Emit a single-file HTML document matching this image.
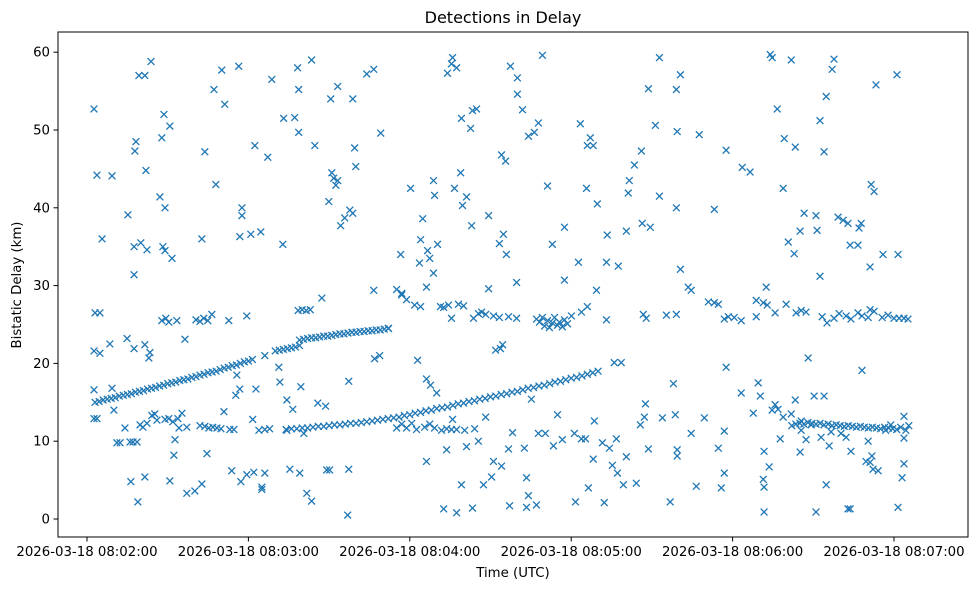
<!DOCTYPE html>
<html><head><meta charset="utf-8">
<style>
html,body{margin:0;padding:0;background:#fff;}
svg{display:block;font-family:"DejaVu Sans","Liberation Sans",sans-serif;}
</style></head>
<body>
<svg id="chart" width="980" height="590" viewBox="0 0 980 590">
<rect x="0" y="0" width="980" height="590" fill="#fff"/>
<text x="503" y="23" text-anchor="middle" font-size="16" fill="#000">Detections in Delay</text>
<g id="marks"></g>
<rect x="58" y="32" width="910" height="505" fill="none" stroke="#000" stroke-width="1"/>
<g id="xaxis"></g>
<g id="yaxis"></g>
<text x="513" y="577" text-anchor="middle" font-size="13.3" fill="#000">Time (UTC)</text>
<text x="21" y="285" text-anchor="middle" font-size="13.3" fill="#000" transform="rotate(-90 21 285)">Bistatic Delay (km)</text>
</svg>
<script>
// times in seconds after 08:02:00, delays in km
const trackATimes=[3,4.5,6,7.5,9,10.5,12,13.5,15,16.5,18,19.5,21,22.5,24,25.5,27,28.5,30,31.5,33,34.5,36,37.5,39,40.5,42,43.5,45,46.5,48,49.5,51,52.5,54,55.5,57,58.5,60,61.5,70,71.5,73,74.5,76,77.5,79];
const trackADelays=[15.0,15.1,15.3,15.4,15.5,15.6,15.8,15.9,16.0,16.1,16.3,16.4,16.5,16.7,16.8,16.9,17.1,17.2,17.4,17.5,17.6,17.8,17.9,18.0,18.2,18.3,18.5,18.6,18.8,18.9,19.0,19.2,19.4,19.5,19.7,19.8,20.0,20.2,20.3,20.5,21.6,21.7,21.8,21.9,22.0,22.1,22.3];
const trackBTimes=[79,80.5,82,83.5,85,86.5,88,89.5,91,92.5,94,95.5,97,98.5,100,101.5,103,104.5,106,107.5,109,110.5,112,78.5,80,81.5,83];
const trackBDelays=[23.0,23.1,23.2,23.3,23.3,23.4,23.5,23.5,23.6,23.7,23.8,23.8,23.9,24.0,24.0,24.1,24.1,24.2,24.2,24.3,24.3,24.4,24.5,26.8,26.9,26.8,26.9];
const trackCTimes=[74,76,78,80,82,84,86,88,90,92,94,96,98,100,102,104,106,108,110,112,114,116,118,120,122,124,126,128,130,132,134,136,138,140,142,144,146,148,150,152,154,156,158,160,162,164,166,168,170,172,174,176,178,180,182,184,186,188,190];
const trackCDelays=[11.5,11.6,11.6,11.7,11.7,11.8,11.9,11.9,12.0,12.1,12.1,12.2,12.3,12.3,12.4,12.5,12.6,12.7,12.8,12.9,13.0,13.1,13.3,13.4,13.6,13.7,13.9,14.0,14.2,14.3,14.4,14.6,14.8,14.9,15.1,15.2,15.4,15.5,15.7,15.8,16.0,16.1,16.3,16.4,16.6,16.8,16.9,17.1,17.2,17.4,17.6,17.7,17.9,18.1,18.2,18.4,18.6,18.8,19.0];
const trackDTimes=[262,263.5,265,266.5,268,269.5,271,272.5,274,275.5,277,278.5,280,281.5,283,284.5,286,287.5,289,290.5,292,293.5,295,296.5,298,299.5,301,302.5,265.5,267.3,269.2,272.9,276.6,280.3,282.2,296.9,298.8,303.7,304.4,305.5];
const trackDDelays=[12.0,12.2,12.3,12.2,12.4,12.3,12.2,12.3,12.1,12.2,12.0,12.1,12.0,11.9,12.0,11.9,11.8,11.9,11.8,11.7,11.8,11.7,11.6,11.8,11.7,11.6,11.5,11.8,11.4,10.2,12.1,10.5,11.2,11.0,10.5,11.4,12.1,10.4,11.4,12.0];
const clutterHighTimes=[3,4.8,27.8,29.3,30.4,33.4,40.5,42,43.4,44.9,46.4,52.7,59.4,115.1,117,118.8,121.8,124,131.4,132.6,134.4,135.5,138.1,140,143.7,145.5,146.7,148.2,149.3,151.1,153.3,156.7,159.7,167.1,168.2,169.3,170.1,171.2,171.9,173,173.8,174.9,175.6,176.7,177.5,178.6,180.1,183.8,186,193.1,206.8,207.9,215.4,219.1,223.5,231,233.2,234.7,236.9,238.4,240.6,243.2,248.8,251.4,252.9,255.8,259.9,263.6,265.5,267.3,273.3,275.1,277.7,279.6,282.2,284,286.6,288.1,290.4,292.6,295.6,297.8,300,301.9,303.7,305.2,87.3,106.6,117,126.2,159.7,177.5,189.4,224.6,252.5,248.8,291.1];
const clutterHighDelays=[26.5,26.5,25.5,25.8,25.3,25.5,25.6,25.4,25.8,25.5,26.3,25.5,26.1,29.5,28.8,28.2,27.5,27.3,27.3,27.2,27.5,25.8,27.6,27.4,25.8,26.4,26.6,26.3,29.6,26.1,25.9,26.0,25.8,25.7,25.3,25.9,24.8,25.5,24.6,25.2,25.9,24.9,25.3,24.7,25.6,25.1,26.1,26.6,27.3,25.6,26.3,25.8,26.2,26.3,29.8,27.9,27.8,27.6,25.7,26.0,25.9,25.5,26.0,27.8,27.5,26.5,27.6,26.5,26.8,26.6,26.0,25.2,25.8,26.4,26.1,25.7,26.5,26.1,25.9,26.7,25.9,26.2,25.8,25.8,25.8,25.7,28.4,29.4,29.0,29.8,30.4,30.7,29.4,29.4,29.8,28.1,26.9];
const clutterLowTimes=[26,29,30.4,31.9,33.8,37.1,42,43.8,45.3,46.8,48.3,49.8,53.1,54.6,63.9,66.1,67.9,74.3,115.1,117,118.8,120.7,122.5,125.5,127.4,129.2,131.8,133.7,135.5,137.4,140.4,144.1,2.6,3.7,24.1,25.2,19.7,20.8,22.3,14.1];
const clutterLowDelays=[12.7,12.8,12.9,12.5,12.9,11.8,12.0,11.9,11.7,11.8,11.7,11.6,11.5,11.5,11.4,11.5,11.6,11.4,11.7,12.2,11.7,12.3,11.5,11.8,12.2,11.7,11.4,11.6,11.5,11.5,11.4,11.6,12.9,12.9,13.3,13.5,12.1,11.8,12.3,11.7];
const scatterHighTimes=[2.6,3.7,5.6,9.3,15.2,17.5,17.5,18.2,17.8,19.3,21.5,21.9,23.8,20,22.3,27.1,27.8,29,28.6,30.8,28.2,29,31.6,42.7,43.8,47.2,47.9,50.1,51.2,56.4,57.6,57.6,56.8,62.4,60.9,64.6,67.2,68.7,73.1,72.8,77.2,78.3,78.7,83.5,84.7,78.7,90.6,93.2,91,91.7,92.5,93.2,89.9,94.3,95.8,97.7,98.8,98.8,99.5,99.9,104,106.6,109.2,116.6,120.3,123.6,124,126.6,127.4,128.8,128.8,129.2,130.3,124.8,134,135.5,135.9,137.4,139.2,136.6,139.6,141.1,142.6,143.3,144.8,149.3,138.9,143,153.3,154.8,154.1,155.6,155.9,157.4,160,160,161.9,164.1,166.3,167.8,169.3,171.2,173,177.5,182.7,183.4,185.7,187.1,188.2,186,189.7,193.1,193.4,197.5,201.2,203.5,201.6,200.5,206.1,206.4,209.4,212.8,208.7,211.3,212.8,219.1,220.6,220.6,219.1,219.4,227.6,233.2,237.6,243.6,246.5,254.7,254,258.8,261.8,256.6,263.3,259.2,260.7,262.9,265.1,266.6,271,272.5,274,274.8,277.7,277,279.2,281.1,282.9,283.7,286.6,287.8,287,291.5,292.6,293.3,295.9,301.5,301.1,272.5,271.4,291.1];
const scatterHighDelays=[52.7,44.2,36,44.1,39.1,35,31.4,48.5,47.3,57,57,44.8,58.8,35.5,34.6,41.4,49,40,52,50.5,35,34.5,33.5,36,47.2,55.2,43,57.7,53.3,58.2,40,39,36.3,48,36.6,36.9,46.5,56.5,51.5,35.3,51.6,58,55.2,59,48,49.7,54,55.6,44.5,43.8,42.9,43.5,40.8,37.7,38.7,39.7,54,39.3,47.7,45.3,57.2,57.8,49.6,34,42.5,32.9,35.9,34.5,33.5,31.6,43.5,41.6,35.3,38.6,57.3,58.5,59.3,58,51.5,42.5,40.3,41.4,50.2,52.5,52.7,39,44.5,37.7,35.4,36.6,46.8,46,34,58.2,56.7,54.6,52.6,49.2,49.7,50.9,59.6,42.8,35.3,37.5,33,50.8,42.5,49,48,48,40.5,33,36.5,32.5,41.9,45.5,43.5,37,47.3,38,37.5,59.3,55.3,50.6,41.5,40,32.1,57.1,55.2,49.8,49.4,39.8,47.4,45.2,44.6,59.3,59.7,42.5,59,52.7,47.8,48.9,35.6,34.1,37,39.3,39,51.2,47.2,54.3,59.1,57.8,38.8,38.4,38,35.2,35.2,38,37.4,43,42.1,55.8,34,34,57.1,31.2,37.1,32.4,31.4];
const scatterLowTimes=[18.9,16.3,21.5,30.8,37.1,40.1,42.7,53.8,57.2,59.4,62,65,65,66.1,75.4,79.1,81.7,83.5,90.2,96.9,97.3,126.2,132.6,137.4,139.2,143.3,147.4,150.4,154.1,157.1,163.4,164.1,163.4,167.1,181.6,186.4,192.3,195.3,197.2,199.4,204.2,216.8,235.8,236.9,251.4,251.7,251.7,271,274.8,282.9,283.7,289.6,291.1,292.2,294.1,301.5,303,303.7,226.5];
const scatterLowDelays=[2.2,4.8,5.4,4.9,3.3,3.6,4.5,6.2,4.8,5.7,6,4.1,3.8,5.9,6.4,5.9,3.3,2.3,6.3,0.5,6.4,7.4,1.3,0.8,4.4,1.4,4.4,5.4,6.8,1.7,5.3,3,1.5,1.8,2.2,4,2.1,6.9,5.9,4.4,4.6,2.2,4,5.9,5.1,4.1,0.9,0.9,4.4,1.3,1.3,7.4,7.3,6.4,6.2,1.5,5.3,7.1,4.2];
const scatterMidTimes=[2.6,4.8,2.6,8.5,10,9.3,11.1,12.3,16,17.1,18.6,17.5,21.5,23,23.4,14.9,32.3,32.7,34.2,35.3,36.4,44.6,50.9,55.7,56.8,55.3,61.6,62.8,66.1,71.3,71.7,74.3,76.5,79.5,80.6,85.8,88.7,89.1,97.3,106.9,108.8,112.1,122.9,126.2,127.7,130,133.7,135.9,141.1,145.5,148.2,151.1,151.9,154.5,153.7,156.7,158.2,162.6,165.2,167.8,170.4,173.4,174.9,176.7,181.2,183.8,185.3,188.2,188.6,191.6,194.2,196.8,198.6,196,200.5,205.7,207.6,207.2,208.7,213.9,218,218.7,219.4,219.4,224.6,229.5,234.7,236.9,237.6,243.2,247.7,249.5,250.3,251.7,253.6,254.7,255.8,256.9,257.7,258.8,261.8,263.3,265.1,265.5,268.1,270.3,274,275.9,284,288.1,290.4,291.8,303.7];
const scatterMidDelays=[21.6,21.3,16.6,22.5,14,16.8,9.8,9.8,9.9,9.9,9.9,21.9,22.4,20.7,21.4,23.2,8.2,10.2,11.7,13.6,23.1,8.4,13.8,18.5,16.7,15.9,12.8,16.7,21,19.5,17.6,15.3,14.1,17,11,14.9,14.5,6.3,17.7,20.6,21,24.5,20.4,18,17.2,16.2,8.9,12.8,9.3,10,13.1,7.4,21.7,22.4,21.9,9,11.1,9.1,15.4,11,11,9.4,13.4,10.2,11,10.3,10.3,7.7,12.6,9.8,9.1,10.3,20.1,20.1,8,12.1,14.8,13.1,9,13,17.4,13.4,8.1,8.9,11,13,9.1,11.3,19.5,16.2,13.6,17.5,15.8,8.7,6.7,14,14.7,14.1,10.3,13.1,13.5,15.3,8.6,12.6,20.7,15.8,15.8,9.4,8.7,19.1,10,8.1,13.2];
const xTickSeconds=[0,60,120,180,240,300];
const xTickLabels=["2026-03-18 08:02:00","2026-03-18 08:03:00","2026-03-18 08:04:00","2026-03-18 08:05:00","2026-03-18 08:06:00","2026-03-18 08:07:00"];
const yTicks=[0,10,20,30,40,50,60];

const NS="http://www.w3.org/2000/svg";
function xScale(t){return 87+t*2.69;}
function yScale(d){return 519-d*7.78;}
const marks=document.getElementById('marks');
const groups=[[trackATimes,trackADelays],[trackBTimes,trackBDelays],[trackCTimes,trackCDelays],[trackDTimes,trackDDelays],[clutterHighTimes,clutterHighDelays],[clutterLowTimes,clutterLowDelays],[scatterHighTimes,scatterHighDelays],[scatterLowTimes,scatterLowDelays],[scatterMidTimes,scatterMidDelays]];
groups.forEach(function(g){
  const ts=g[0],ds=g[1];
  const n=Math.min(ts.length,ds.length);
  for(let i=0;i<n;i++){
    const cx=xScale(ts[i]),cy=yScale(ds[i]),r=3.4;
    const p=document.createElementNS(NS,'path');
    p.setAttribute('d','M'+(cx-r)+' '+(cy-r)+'L'+(cx+r)+' '+(cy+r)+'M'+(cx-r)+' '+(cy+r)+'L'+(cx+r)+' '+(cy-r));
    p.setAttribute('stroke','#1f77b4');
    p.setAttribute('stroke-width','1.3');
    p.setAttribute('fill','none');
    
    
    marks.appendChild(p);
  }
});
const xa=document.getElementById('xaxis');
xTickSeconds.forEach(function(t,i){
  const x=xScale(t);
  const l=document.createElementNS(NS,'line');
  l.setAttribute('x1',x);l.setAttribute('x2',x);l.setAttribute('y1',537);l.setAttribute('y2',541.5);
  l.setAttribute('stroke','#000');
  
  
  xa.appendChild(l);
  const tx=document.createElementNS(NS,'text');
  tx.setAttribute('x',x);tx.setAttribute('y',556);tx.setAttribute('text-anchor','middle');tx.setAttribute('font-size','13.3');
  tx.textContent=xTickLabels[i];
  
  
  xa.appendChild(tx);
});
const ya=document.getElementById('yaxis');
yTicks.forEach(function(v){
  const y=yScale(v);
  const l=document.createElementNS(NS,'line');
  l.setAttribute('x1',53.5);l.setAttribute('x2',58);l.setAttribute('y1',y);l.setAttribute('y2',y);
  l.setAttribute('stroke','#000');
  
  
  ya.appendChild(l);
  const tx=document.createElementNS(NS,'text');
  tx.setAttribute('x',50);tx.setAttribute('y',y+4.5);tx.setAttribute('text-anchor','end');tx.setAttribute('font-size','13.3');
  tx.textContent=String(v);
  
  
  ya.appendChild(tx);
});
</script>
</body></html>
